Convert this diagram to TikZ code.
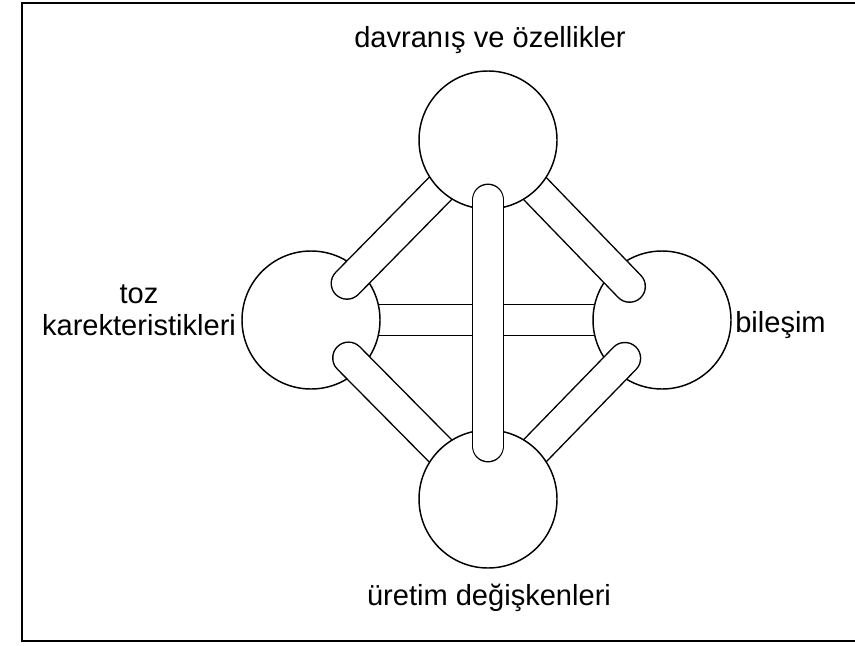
\documentclass[tikz,border=0pt]{standalone}
\usepackage{fontspec}
\setmainfont{Liberation Sans}
\usepackage{tikz}

\tikzset{
  ball/.style={circle, draw, fill=white, line width=1.1pt, minimum size=103.5pt, inner sep=0pt},
  rod/.style={double=white, double distance=22.5pt, line width=1.1pt, line cap=round},
  lbl/.style={inner sep=0pt, font=\fontsize{21.8}{24}\selectfont}
}

\begin{document}
\begin{tikzpicture}[x=0.75pt,y=0.75pt,yscale=-1,xscale=1]
\useasboundingbox (0,0) rectangle (855,645);

%frame
\draw [line width=2.2pt]  (858,3) -- (22,3) -- (22,641) -- (858,641) ;

\coordinate (ptop) at (488,140);
\coordinate (pleft) at (311,320);
\coordinate (pright) at (662,320);
\coordinate (pbot) at (488,499);

%Straight Lines
\draw [rod]   (pleft) -- (pright) ;

\node [ball] (left) at (pleft) {};
\node [ball] (right) at (pright) {};

%Straight Lines
\draw [rod, shorten >=38.5pt]   (ptop) -- (left.center) ;
\draw [rod, shorten >=35pt]   (ptop) -- (right.center) ;
\draw [rod, shorten <=40pt]   (left.center) -- (pbot) ;
\draw [rod, shorten <=40pt]   (right.center) -- (pbot) ;

\node [ball] (top) at (ptop) {};
\node [ball] (bottom) at (pbot) {};

%Straight Lines
\draw [rod, shorten <=45pt, shorten >=39.75pt]   (top.center) -- (bottom.center) ;

% Text Node
\node [lbl, anchor=base] (davranis) at (490,48) {davranış ve özellikler};
% Text Node
\node [lbl, anchor=base, align=center] (toz) at (139,335) {toz\\karekteristikleri};
% Text Node
\node [lbl, anchor=base west] (bilesim) at (735,332) {bileşim};
% Text Node
\node [lbl, anchor=base] (uretim) at (489,605) {üretim değişkenleri};

\end{tikzpicture}
\end{document}
